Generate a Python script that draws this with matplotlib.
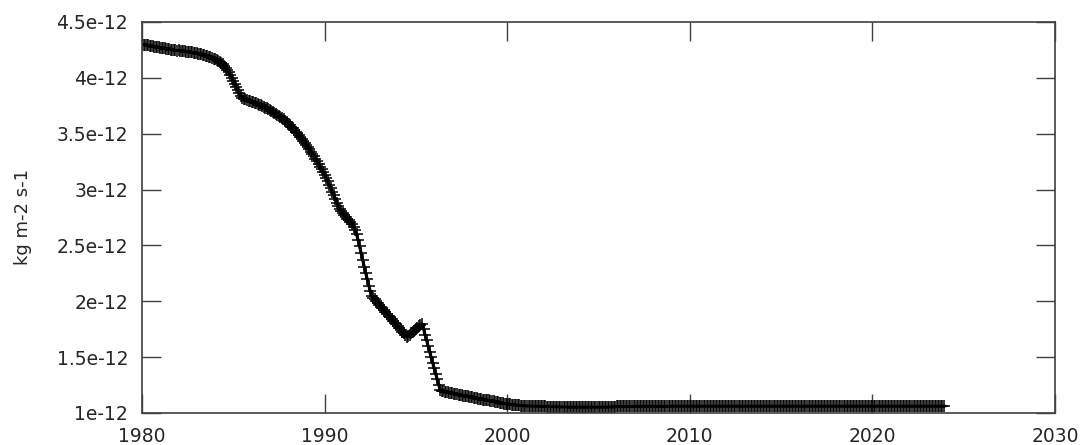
import numpy as np
import matplotlib
matplotlib.use("Agg")
from matplotlib import pyplot as plt
from matplotlib.ticker import FuncFormatter

# monthly values in units of 1e-12 kg m-2 s-1, one row per year (1980..2023)
flux_1e12 = [
    [4.300, 4.298, 4.295, 4.293, 4.290, 4.288, 4.285, 4.283, 4.280, 4.278, 4.275, 4.272],  # 1980
    [4.270, 4.268, 4.265, 4.263, 4.260, 4.258, 4.255, 4.253, 4.250, 4.248, 4.246, 4.244],  # 1981
    [4.245, 4.243, 4.241, 4.239, 4.237, 4.235, 4.233, 4.231, 4.229, 4.227, 4.225, 4.222],  # 1982
    [4.220, 4.217, 4.213, 4.210, 4.206, 4.202, 4.197, 4.192, 4.187, 4.182, 4.177, 4.172],  # 1983
    [4.168, 4.160, 4.152, 4.143, 4.133, 4.122, 4.110, 4.092, 4.072, 4.050, 4.025, 3.998],  # 1984
    [3.970, 3.945, 3.918, 3.890, 3.862, 3.838, 3.818, 3.812, 3.806, 3.800, 3.795, 3.790],  # 1985
    [3.786, 3.781, 3.776, 3.771, 3.766, 3.760, 3.754, 3.748, 3.741, 3.734, 3.727, 3.720],  # 1986
    [3.712, 3.704, 3.696, 3.688, 3.679, 3.670, 3.660, 3.650, 3.640, 3.628, 3.615, 3.602],  # 1987
    [3.589, 3.576, 3.562, 3.548, 3.533, 3.518, 3.502, 3.486, 3.469, 3.452, 3.434, 3.416],  # 1988
    [3.398, 3.379, 3.360, 3.340, 3.319, 3.298, 3.276, 3.253, 3.229, 3.205, 3.180, 3.154],  # 1989
    [3.128, 3.100, 3.072, 3.042, 3.012, 2.980, 2.948, 2.915, 2.882, 2.852, 2.826, 2.805],  # 1990
    [2.788, 2.772, 2.756, 2.740, 2.724, 2.706, 2.688, 2.668, 2.640, 2.600, 2.548, 2.490],  # 1991
    [2.430, 2.370, 2.310, 2.252, 2.196, 2.140, 2.088, 2.050, 2.032, 2.016, 2.000, 1.984],  # 1992
    [1.968, 1.952, 1.936, 1.920, 1.904, 1.888, 1.872, 1.856, 1.840, 1.824, 1.808, 1.792],  # 1993
    [1.776, 1.760, 1.744, 1.728, 1.712, 1.696, 1.682, 1.690, 1.702, 1.714, 1.726, 1.738],  # 1994
    [1.750, 1.762, 1.774, 1.786, 1.798, 1.750, 1.700, 1.650, 1.600, 1.550, 1.500, 1.450],  # 1995
    [1.400, 1.350, 1.300, 1.250, 1.205, 1.198, 1.195, 1.192, 1.189, 1.186, 1.183, 1.180],  # 1996
    [1.177, 1.174, 1.171, 1.168, 1.165, 1.162, 1.159, 1.156, 1.153, 1.150, 1.148, 1.146],  # 1997
    [1.144, 1.141, 1.138, 1.135, 1.132, 1.129, 1.126, 1.123, 1.120, 1.118, 1.116, 1.114],  # 1998
    [1.112, 1.109, 1.106, 1.103, 1.100, 1.097, 1.094, 1.091, 1.088, 1.086, 1.084, 1.082],  # 1999
    [1.080, 1.078, 1.076, 1.074, 1.072, 1.070, 1.069, 1.068, 1.067, 1.066, 1.065, 1.064],  # 2000
    [1.063, 1.063, 1.062, 1.062, 1.061, 1.061, 1.060, 1.060, 1.060, 1.059, 1.059, 1.059],  # 2001
    [1.058, 1.058, 1.057, 1.057, 1.056, 1.056, 1.056, 1.055, 1.055, 1.055, 1.054, 1.054],  # 2002
    [1.054, 1.053, 1.053, 1.053, 1.053, 1.052, 1.052, 1.052, 1.052, 1.052, 1.052, 1.052],  # 2003
    [1.052, 1.052, 1.052, 1.052, 1.052, 1.052, 1.052, 1.052, 1.052, 1.052, 1.052, 1.052],  # 2004
    [1.052, 1.052, 1.052, 1.052, 1.052, 1.052, 1.053, 1.053, 1.053, 1.053, 1.053, 1.054],  # 2005
    [1.058, 1.058, 1.058, 1.058, 1.058, 1.058, 1.058, 1.058, 1.058, 1.058, 1.058, 1.058],  # 2006
    [1.059, 1.059, 1.059, 1.059, 1.059, 1.059, 1.059, 1.059, 1.059, 1.059, 1.059, 1.059],  # 2007
    [1.059, 1.059, 1.059, 1.059, 1.059, 1.059, 1.059, 1.059, 1.059, 1.059, 1.059, 1.059],  # 2008
    [1.060, 1.060, 1.060, 1.060, 1.060, 1.060, 1.060, 1.060, 1.060, 1.060, 1.060, 1.060],  # 2009
    [1.060, 1.060, 1.060, 1.060, 1.060, 1.060, 1.060, 1.060, 1.060, 1.060, 1.060, 1.060],  # 2010
    [1.060, 1.060, 1.060, 1.060, 1.060, 1.060, 1.060, 1.060, 1.060, 1.060, 1.060, 1.060],  # 2011
    [1.060, 1.060, 1.060, 1.060, 1.060, 1.060, 1.060, 1.060, 1.060, 1.060, 1.060, 1.060],  # 2012
    [1.060, 1.060, 1.060, 1.060, 1.060, 1.060, 1.060, 1.060, 1.060, 1.060, 1.060, 1.060],  # 2013
    [1.060, 1.060, 1.060, 1.060, 1.060, 1.060, 1.060, 1.060, 1.060, 1.060, 1.060, 1.060],  # 2014
    [1.060, 1.060, 1.060, 1.060, 1.060, 1.060, 1.060, 1.060, 1.060, 1.060, 1.060, 1.060],  # 2015
    [1.060, 1.060, 1.060, 1.060, 1.060, 1.060, 1.060, 1.060, 1.060, 1.060, 1.060, 1.060],  # 2016
    [1.060, 1.060, 1.060, 1.060, 1.060, 1.060, 1.060, 1.060, 1.060, 1.060, 1.060, 1.060],  # 2017
    [1.060, 1.060, 1.060, 1.060, 1.060, 1.060, 1.060, 1.060, 1.060, 1.060, 1.060, 1.060],  # 2018
    [1.060, 1.060, 1.060, 1.060, 1.060, 1.060, 1.060, 1.060, 1.060, 1.060, 1.060, 1.060],  # 2019
    [1.060, 1.060, 1.060, 1.060, 1.060, 1.060, 1.060, 1.060, 1.060, 1.060, 1.060, 1.060],  # 2020
    [1.060, 1.060, 1.060, 1.060, 1.060, 1.060, 1.060, 1.060, 1.060, 1.060, 1.060, 1.060],  # 2021
    [1.060, 1.060, 1.060, 1.060, 1.060, 1.060, 1.060, 1.060, 1.060, 1.060, 1.060, 1.060],  # 2022
    [1.060, 1.060, 1.060, 1.060, 1.060, 1.060, 1.060, 1.060, 1.060, 1.060, 1.060, 1.060],  # 2023
]
first_year = 1980
x_ticks = [1980, 1990, 2000, 2010, 2020, 2030]
y_ticks = [1e-12, 1.5e-12, 2e-12, 2.5e-12, 3e-12, 3.5e-12, 4e-12, 4.5e-12]
y_label = "kg m-2 s-1"

# flatten monthly rows into a time axis
values = np.array(flux_1e12).ravel() * 1e-12
nyears = len(flux_1e12)
years = np.arange(first_year, first_year + nyears)
months = np.arange(12)
time = (years[:, None] + months[None, :] / 12.0).ravel()

txt = "#262626"
fig = plt.figure(figsize=(10.8, 4.45), dpi=100)
ax = fig.add_axes([0.1315, 0.072, 0.8454, 0.8787])

ax.plot(time, values, color="black", lw=2.2, marker="+", ms=8, mew=1.1)

ax.set_xlim(1980, 2030)
ax.set_ylim(1e-12, 4.5e-12)
ax.set_xticks(x_ticks)
ax.set_yticks(y_ticks)
ax.yaxis.set_major_formatter(FuncFormatter(lambda v, p: "%g" % v))
ax.tick_params(direction="in", length=14, width=1.0, colors="#404040",
               top=True, right=True, labelsize=13.5, labelcolor=txt)
ax.tick_params(axis="y", pad=10)
ax.tick_params(axis="x", pad=10)
for s in ax.spines.values():
    s.set_color("#404040")
    s.set_linewidth(1.2)

ax.set_ylabel(y_label, fontsize=13, color=txt, labelpad=18)

fig.savefig("out.png", dpi=100)
